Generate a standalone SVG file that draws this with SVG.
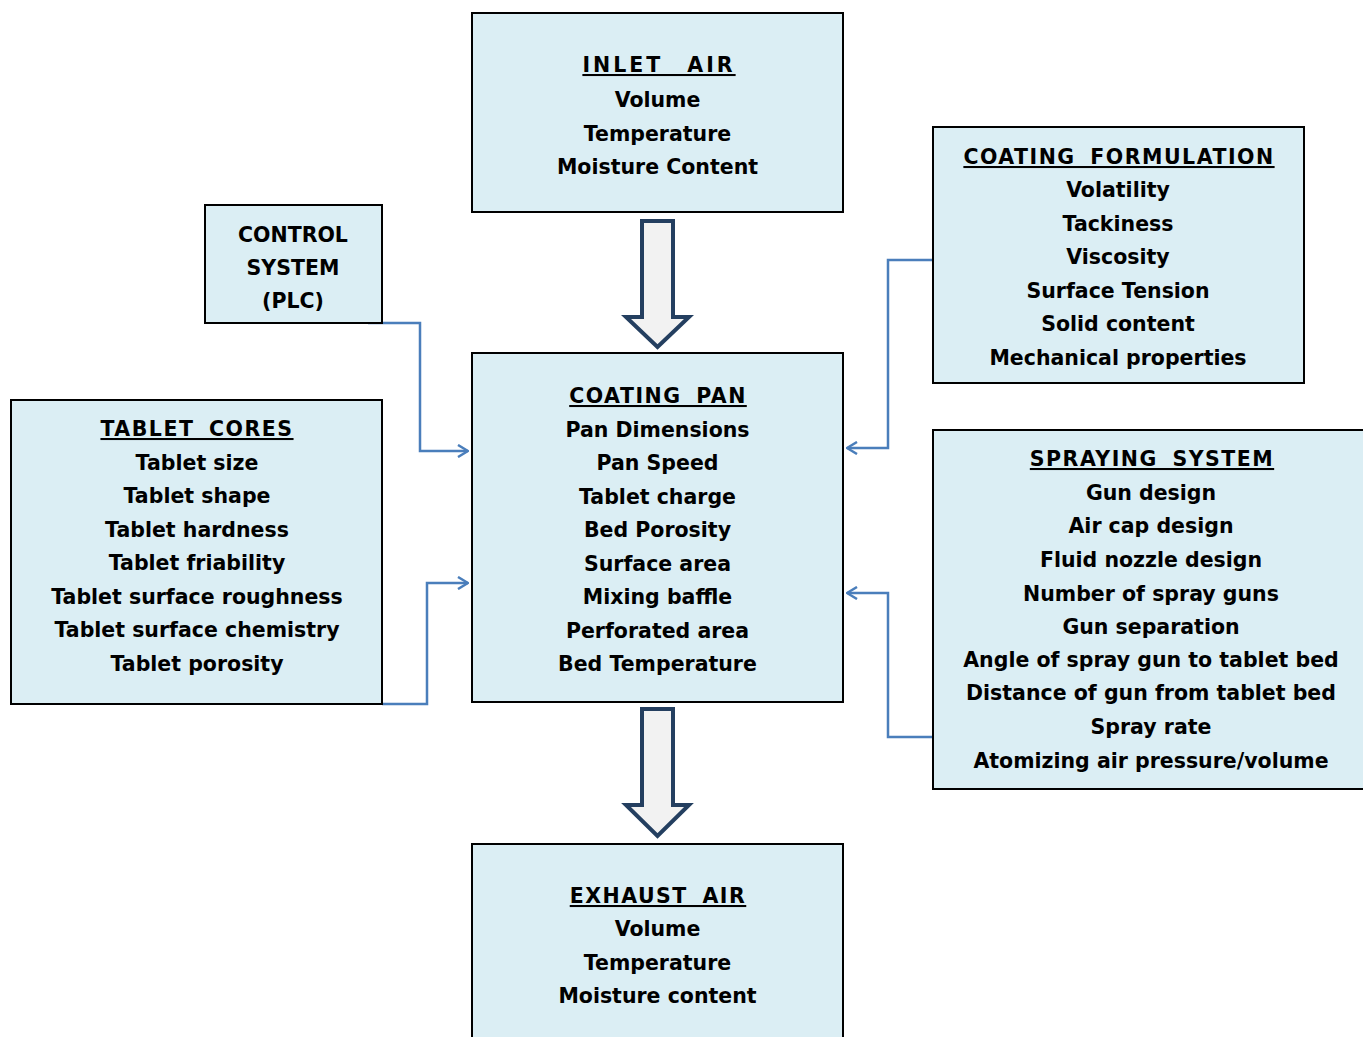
<svg xmlns="http://www.w3.org/2000/svg" width="1363" height="1037" viewBox="0 0 1363 1037">
<defs>
<style>
.box{fill:#DBEEF4;stroke:#000;stroke-width:2}
text{font-family:"DejaVu Sans","Liberation Sans",sans-serif;font-weight:bold;font-size:20.5px;fill:#000;text-anchor:middle}
.h{text-decoration:underline;letter-spacing:1.5px;word-spacing:6px}
.conn{fill:none;stroke:#4A7EBB;stroke-width:2.5}
.big{fill:#F2F2F2;stroke:#243F60;stroke-width:4;stroke-linejoin:miter}
</style>
<marker id="oa" viewBox="0 0 12 14" refX="11" refY="7" markerWidth="12" markerHeight="14" markerUnits="userSpaceOnUse" orient="auto">
<path d="M1,1 L11,7 L1,13" fill="none" stroke="#4A7EBB" stroke-width="2.5"/>
</marker>
</defs>
<rect width="1363" height="1037" fill="#fff"/>
<g id="connectors">
<path class="big" d="M642,221 L673,221 L673,317 L689,317 L657.5,347 L626,317 L642,317 Z"/>
<path class="big" d="M642,709 L673,709 L673,805 L689,805 L657.5,836 L626,805 L642,805 Z"/>
<path class="conn" marker-end="url(#oa)" d="M368,323 L420,323 L420,451 L468,451"/>
<path class="conn" marker-end="url(#oa)" d="M933,260 L888,260 L888,448 L847,448"/>
<path class="conn" marker-end="url(#oa)" d="M382,704 L427,704 L427,583 L468,583"/>
<path class="conn" marker-end="url(#oa)" d="M933,737 L888,737 L888,593 L847,593"/>
</g>
<g id="inlet-air">
<rect class="box" x="472" y="13" width="371" height="199"/>
<text x="659" y="72" class="h" style="letter-spacing:3px;word-spacing:14px">INLET AIR</text>
<text x="657.5" y="107">Volume</text>
<text x="657.5" y="141">Temperature</text>
<text x="657.5" y="174">Moisture Content</text>
</g>
<g id="control-system">
<rect class="box" x="205" y="205" width="177" height="118"/>
<text x="293" y="242">CONTROL</text>
<text x="293" y="275">SYSTEM</text>
<text x="293" y="308">(PLC)</text>
</g>
<g id="coating-formulation">
<rect class="box" x="933" y="127" width="371" height="256"/>
<text x="1119" y="164" class="h">COATING FORMULATION</text>
<text x="1118" y="197">Volatility</text>
<text x="1118" y="231">Tackiness</text>
<text x="1118" y="264">Viscosity</text>
<text x="1118" y="298">Surface Tension</text>
<text x="1118" y="331">Solid content</text>
<text x="1118" y="365">Mechanical properties</text>
</g>
<g id="tablet-cores">
<rect class="box" x="11" y="400" width="371" height="304"/>
<text x="197" y="436" class="h">TABLET CORES</text>
<text x="197" y="470">Tablet size</text>
<text x="197" y="503">Tablet shape</text>
<text x="197" y="537">Tablet hardness</text>
<text x="197" y="570">Tablet friability</text>
<text x="197" y="604">Tablet surface roughness</text>
<text x="197" y="637">Tablet surface chemistry</text>
<text x="197" y="671">Tablet porosity</text>
</g>
<g id="coating-pan">
<rect class="box" x="472" y="353" width="371" height="349"/>
<text x="658" y="403" class="h">COATING PAN</text>
<text x="657.5" y="437">Pan Dimensions</text>
<text x="657.5" y="470">Pan Speed</text>
<text x="657.5" y="504">Tablet charge</text>
<text x="657.5" y="537">Bed Porosity</text>
<text x="657.5" y="571">Surface area</text>
<text x="657.5" y="604">Mixing baffle</text>
<text x="657.5" y="638">Perforated area</text>
<text x="657.5" y="671">Bed Temperature</text>
</g>
<g id="spraying-system">
<rect class="box" x="933" y="430" width="440" height="359"/>
<text x="1152" y="466" class="h">SPRAYING SYSTEM</text>
<text x="1151" y="500">Gun design</text>
<text x="1151" y="533">Air cap design</text>
<text x="1151" y="567">Fluid nozzle design</text>
<text x="1151" y="601">Number of spray guns</text>
<text x="1151" y="634">Gun separation</text>
<text x="1151" y="667">Angle of spray gun to tablet bed</text>
<text x="1151" y="700">Distance of gun from tablet bed</text>
<text x="1151" y="734">Spray rate</text>
<text x="1151" y="768">Atomizing air pressure/volume</text>
</g>
<g id="exhaust-air">
<rect class="box" x="472" y="844" width="371" height="210"/>
<text x="658" y="903" class="h">EXHAUST AIR</text>
<text x="657.5" y="936">Volume</text>
<text x="657.5" y="970">Temperature</text>
<text x="657.5" y="1003">Moisture content</text>
</g>
</svg>
